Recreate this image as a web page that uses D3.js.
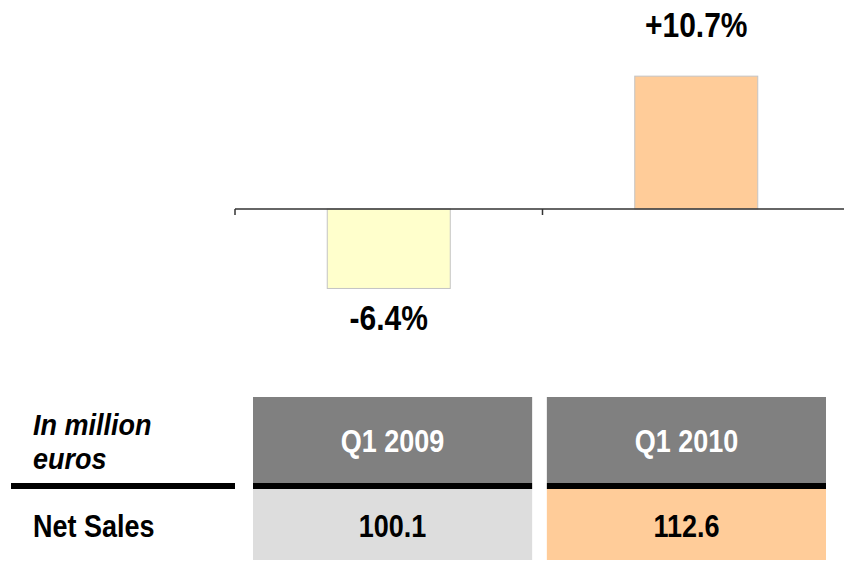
<!DOCTYPE html>
<html>
<head>
<meta charset="utf-8">
<script src="https://cdn.jsdelivr.net/npm/d3@7/dist/d3.min.js"></script>
<style>
  html, body { margin: 0; padding: 0; background: #ffffff; }
  svg { display: block; font-family: "Liberation Sans", Arial, Helvetica, sans-serif; }
</style>
</head>
<body>
<svg id="chart" width="844" height="561"></svg>
<script>
// Quarter labels shared by the bars and the table columns
const categories = ["Q1 2009", "Q1 2010"];
// Year-on-year growth of net sales, in percent
const growthPct = [-6.4, 10.7];
// Net sales, in million euros
const netSales = [100.1, 112.6];
// Bar fills and table value-cell fills
const barColors = ["#FFFFCC", "#FFCC99"];
const cellColors = ["#DDDDDD", "#FFCC99"];

// Slightly tall lettering used throughout
const STRETCH = 1.17;
const place = (x, y, s = STRETCH) => `translate(${x},${y}) scale(1,${s})`;

const svg = d3.select("#chart");

// ---- Growth bars ----
const x = d3.scaleBand()
  .domain(categories)
  .range([235, 850])
  .paddingInner(0.6)
  .paddingOuter(0.3);

const y = d3.scaleLinear()
  .domain([-12, 12])
  .range([358, 60]);

const fmtPct = v => (v > 0 ? "+" : "") + v.toFixed(1) + "%";

const bars = svg.append("g");
bars.selectAll("rect")
  .data(growthPct)
  .join("rect")
  .attr("x", (d, i) => x(categories[i]))
  .attr("width", x.bandwidth())
  .attr("y", d => y(Math.max(0, d)))
  .attr("height", d => Math.abs(y(d) - y(0)))
  .attr("fill", (d, i) => barColors[i])
  .attr("stroke", "#C4C4C4")
  .attr("stroke-width", 1);

// Baseline with category boundary ticks
const axis = svg.append("g").attr("transform", `translate(0,${y(0)})`);
axis.append("line")
  .attr("x1", x.range()[0]).attr("x2", x.range()[1])
  .attr("stroke", "#333333").attr("stroke-width", 1.5);
axis.selectAll("line.tick")
  .data(d3.range(categories.length + 1))
  .join("line")
  .attr("class", "tick")
  .attr("x1", i => x.range()[0] + i * x.step())
  .attr("x2", i => x.range()[0] + i * x.step())
  .attr("y1", 0).attr("y2", 6)
  .attr("stroke", "#333333").attr("stroke-width", 1.5);

// Growth labels above / below the bars
svg.append("g").selectAll("text")
  .data(growthPct)
  .join("text")
  .attr("transform", (d, i) => place(
    x(categories[i]) + x.bandwidth() / 2,
    d >= 0 ? y(d) - 39 : y(d) + 42))
  .attr("text-anchor", "middle")
  .attr("font-size", 30)
  .attr("font-weight", "bold")
  .attr("fill", "#000")
  .text(fmtPct);

// ---- Summary table ----
const col = d3.scaleBand()
  .domain(categories)
  .range([253, 826])
  .paddingInner(0.05)
  .paddingOuter(0);

const headTop = 397, ruleTop = 483, ruleH = 6, rowBottom = 560;

const table = svg.append("g");

// Header cells
table.selectAll("rect.head")
  .data(categories)
  .join("rect")
  .attr("class", "head")
  .attr("x", d => col(d)).attr("width", col.bandwidth())
  .attr("y", headTop).attr("height", ruleTop - headTop)
  .attr("fill", "#808080");

table.selectAll("text.head")
  .data(categories)
  .join("text")
  .attr("class", "head")
  .attr("transform", d => place(col(d) + col.bandwidth() / 2, 452))
  .attr("text-anchor", "middle")
  .attr("font-size", 27)
  .attr("font-weight", "bold")
  .attr("fill", "#ffffff")
  .text(d => d);

// Value cells
table.selectAll("rect.val")
  .data(netSales)
  .join("rect")
  .attr("class", "val")
  .attr("x", (d, i) => col(categories[i])).attr("width", col.bandwidth())
  .attr("y", ruleTop + ruleH).attr("height", rowBottom - ruleTop - ruleH)
  .attr("fill", (d, i) => cellColors[i]);

table.selectAll("text.val")
  .data(netSales)
  .join("text")
  .attr("class", "val")
  .attr("transform", (d, i) => place(col(categories[i]) + col.bandwidth() / 2, 537))
  .attr("text-anchor", "middle")
  .attr("font-size", 27)
  .attr("font-weight", "bold")
  .attr("fill", "#000")
  .text(d => d.toFixed(1));

// Thick black rules under the header row
const rules = [[11, 235], ...categories.map(c => [col(c), col(c) + col.bandwidth()])];
table.selectAll("rect.rule")
  .data(rules)
  .join("rect")
  .attr("class", "rule")
  .attr("x", d => d[0]).attr("width", d => d[1] - d[0])
  .attr("y", ruleTop).attr("height", ruleH)
  .attr("fill", "#000");

// Row headings
[["In million", 435], ["euros", 469]].forEach(([t, yy]) => {
  table.append("text")
    .attr("transform", place(33, yy, 1.1))
    .attr("font-size", 27)
    .attr("font-weight", "bold")
    .attr("font-style", "italic")
    .attr("fill", "#000")
    .text(t);
});

table.append("text")
  .attr("transform", place(33, 537))
  .attr("font-size", 27)
  .attr("font-weight", "bold")
  .attr("fill", "#000")
  .text("Net Sales");
</script>
</body>
</html>
